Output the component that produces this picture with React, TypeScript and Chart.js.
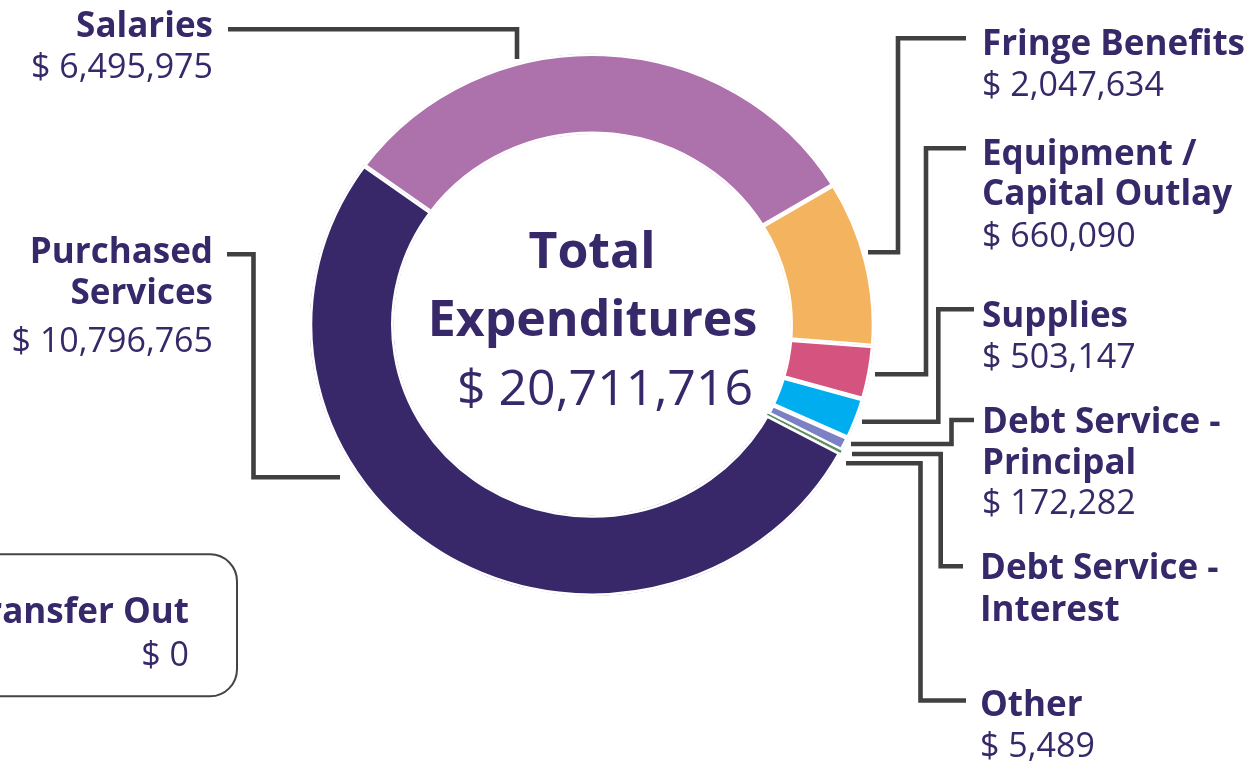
import React, { useEffect, useRef } from "react";
import { Chart, registerables } from "chart.js";

Chart.register(...registerables);

// ---------- data ----------
const categories = [
  "Salaries",
  "Fringe Benefits",
  "Equipment / Capital Outlay",
  "Supplies",
  "Debt Service - Principal",
  "Debt Service - Interest",
  "Other",
  "Purchased Services",
  "Transfer Out",
];
// Debt Service - Interest has no printed value; it is the remainder of the printed total.
const amounts = [6495975, 2047634, 660090, 503147, 172282, 30334, 5489, 10796765, 0];
const valueTexts = ["$ 6,495,975", "$ 2,047,634", "$ 660,090", "$ 503,147", "$ 172,282", "", "$ 5,489", "$ 10,796,765", "$ 0"];
const labelLines = [
  ["Salaries"],
  ["Fringe Benefits"],
  ["Equipment /", "Capital Outlay"],
  ["Supplies"],
  ["Debt Service -", "Principal"],
  ["Debt Service -", "Interest"],
  ["Other"],
  ["Purchased", "Services"],
  ["Transfer Out"],
];
const centerTitle = ["Total", "Expenditures"];
const centerValue = "$ 20,711,716";

// ---------- styles ----------
const sliceColors = ["#AD71AC", "#F4B45F", "#D5537F", "#00AEEF", "#7C80C4", "#5B8F5B", "#FFFFFF", "#38286A", "#38286A"];
const sliceBorders = [2.4, 2.4, 2.4, 2.4, 2.6, 0, 0, 2.4, 0];
const textColor = "#37286A";
const lineColor = "#404040";
const FONT = '"Open Sans", "Noto Sans", sans-serif';

// ---------- annotation layout (labels and leader lines) ----------
type Layout = { x: number; align: CanvasTextAlign; baselines: number[]; valueY: number; route: number[][] };
const labelLayout: Layout[] = [
  { x: 213, align: "right", baselines: [37], valueY: 78, route: [[228, 29.3], [517, 29.3], [517, 59]] },
  { x: 982, align: "left", baselines: [55], valueY: 96, route: [[966, 38.3], [898, 38.3], [898, 252.3], [868, 252.3]] },
  { x: 982, align: "left", baselines: [165, 205], valueY: 247, route: [[966, 148.3], [926, 148.3], [926, 374.3], [875, 374.3]] },
  { x: 982, align: "left", baselines: [327], valueY: 368, route: [[974, 309.3], [938.3, 309.3], [938.3, 421.7], [862, 421.7]] },
  { x: 982, align: "left", baselines: [433, 474], valueY: 514, route: [[974, 420], [951.5, 420], [951.5, 444], [851, 444]] },
  { x: 980, align: "left", baselines: [579, 621], valueY: 0, route: [[852, 454], [940.7, 454], [940.7, 566.3], [963, 566.3]] },
  { x: 980, align: "left", baselines: [716], valueY: 757, route: [[846, 463.3], [920.5, 463.3], [920.5, 700.5], [966, 700.5]] },
  { x: 213, align: "right", baselines: [263, 304], valueY: 352, route: [[227, 254.3], [253.5, 254.3], [253.5, 477.3], [340, 477.3]] },
  { x: 189, align: "right", baselines: [623], valueY: 666, route: [] },
];

const RING_Y_SCALE = 269 / 280;

const ellipsePlugin = {
  id: "ellipse",
  beforeDatasetsDraw(chart: any) {
    const a = chart.chartArea;
    const cx = (a.left + a.right) / 2;
    const cy = (a.top + a.bottom) / 2;
    const ctx = chart.ctx;
    ctx.save();
    ctx.translate(cx, cy);
    ctx.scale(1, RING_Y_SCALE);
    ctx.translate(-cx, -cy);
  },
  afterDatasetsDraw(chart: any) {
    chart.ctx.restore();
  },
};

const annotationPlugin = {
  id: "annotations",
  afterDraw(chart: any) {
    const ctx: CanvasRenderingContext2D = chart.ctx;
    const a = chart.chartArea;
    const cx = (a.left + a.right) / 2;
    ctx.save();

    // transfer out box
    ctx.strokeStyle = "#444444";
    ctx.lineWidth = 2;
    ctx.beginPath();
    (ctx as any).roundRect(-40, 554.3, 277, 142, 27);
    ctx.stroke();

    // leader lines
    ctx.strokeStyle = lineColor;
    ctx.lineWidth = 4.6;
    ctx.lineJoin = "miter";
    ctx.lineCap = "butt";
    labelLayout.forEach((l) => {
      if (l.route.length < 2) return;
      ctx.beginPath();
      l.route.forEach((p, i) => (i === 0 ? ctx.moveTo(p[0], p[1]) : ctx.lineTo(p[0], p[1])));
      ctx.stroke();
    });

    // labels
    ctx.fillStyle = textColor;
    ctx.textBaseline = "alphabetic";
    labelLayout.forEach((l, i) => {
      ctx.textAlign = l.align;
      ctx.font = `700 35px ${FONT}`;
      labelLines[i].forEach((t, j) => ctx.fillText(t, l.x, l.baselines[j]));
      if (valueTexts[i]) {
        ctx.font = `400 34px ${FONT}`;
        ctx.fillText(valueTexts[i], l.x, l.valueY);
      }
    });

    // center text
    ctx.textAlign = "center";
    ctx.font = `700 50px ${FONT}`;
    ctx.fillText(centerTitle[0], cx, 268);
    ctx.fillText(centerTitle[1], cx + 0.5, 336);
    ctx.font = `400 50px ${FONT}`;
    ctx.fillText(centerValue, cx + 13, 405);
    ctx.restore();
  },
};

export default function App() {
  const ref = useRef<HTMLCanvasElement | null>(null);

  useEffect(() => {
    let chart: Chart | null = null;
    let cancelled = false;
    const make = () => {
      if (cancelled || !ref.current) return;
      chart = new Chart(ref.current, {
        type: "doughnut",
        data: {
          labels: categories,
          datasets: [
            {
              data: amounts,
              backgroundColor: sliceColors,
              borderColor: "#ffffff",
              borderWidth: sliceBorders,
              borderAlign: "inner",
            } as any,
          ],
        },
        options: {
          responsive: false,
          animation: false,
          events: [],
          rotation: -54,
          radius: 282.4,
          cutout: "70.2%",
          layout: { padding: { left: 250, right: 321, top: 20, bottom: 133.6 } },
          plugins: { legend: { display: false }, tooltip: { enabled: false } },
        } as any,
        plugins: [ellipsePlugin, annotationPlugin],
      });
    };
    const fonts = (document as any).fonts;
    if (fonts && fonts.load) {
      Promise.all([
        fonts.load(`700 35px "Open Sans"`),
        fonts.load(`400 34px "Open Sans"`),
      ])
        .catch(() => null)
        .then(make);
    } else {
      make();
    }
    return () => {
      cancelled = true;
      if (chart) chart.destroy();
    };
  }, []);

  return (
    <div style={{ position: "absolute", left: 0, top: 0, width: 1255, height: 763, background: "#ffffff" }}>
      <canvas ref={ref} width={1255} height={763} style={{ width: 1255, height: 763, display: "block" }} />
    </div>
  );
}
